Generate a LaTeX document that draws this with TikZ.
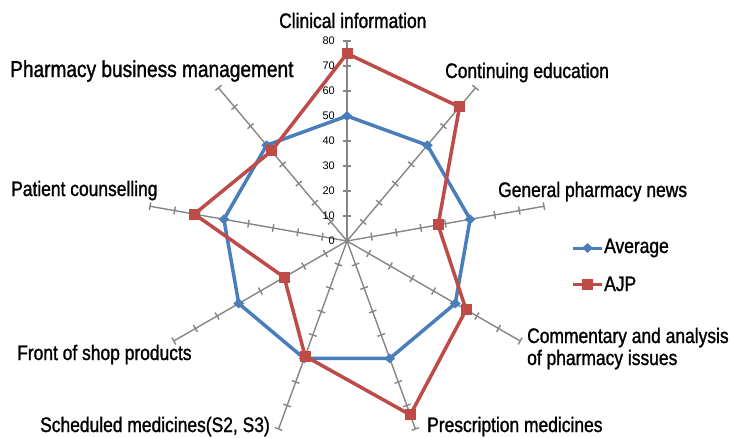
\documentclass[tikz,border=0pt]{standalone}
\usepackage{fontspec}
\setmainfont[FakeStretch=0.83,FakeBold=1.2]{Liberation Sans}
\newfontfamily\ticksfont{Liberation Sans}
\usetikzlibrary{calc,shapes.geometric}
\definecolor{axisgray}{HTML}{868686}
\definecolor{avgblue}{HTML}{4A7EBB}
\definecolor{ajpred}{HTML}{BE4B48}
\begin{document}
\begin{tikzpicture}[x=1pt,y=-1pt,
  axisline/.style={draw=axisgray, line width=1.4pt},
  avgline/.style={draw=avgblue, line width=3.5pt, line join=round},
  ajpline/.style={draw=ajpred, line width=3.5pt, line join=round},
  dmark/.style={diamond, fill=avgblue, inner sep=0pt, minimum width=11pt, minimum height=10pt},
  smark/.style={rectangle, fill=ajpred, inner sep=0pt, minimum size=11pt},
  catlabel/.style={anchor=base west, inner sep=0pt, font=\fontsize{21}{24}\selectfont},
  biglabel/.style={catlabel, font=\fontsize{23}{26}\selectfont},
  ticklabel/.style={anchor=east, inner sep=0pt, font=\ticksfont\fontsize{11}{13}\selectfont}
]
\fill[white] (0,0) rectangle (731,437);
\useasboundingbox (0,0) rectangle (731,437);
\coordinate (C) at (347,241);

% axes with tick marks
\foreach \i in {0,...,8}{
  \pgfmathsetmacro\ang{-90+40*\i}
  \draw[axisline] (C) -- ($(C)+(\ang:200)$) coordinate (E\i);
  \foreach \k in {1,...,8}{
    \draw[axisline] ($(C)+(\ang:{25*\k})+({\ang+90}:4)$) -- ($(C)+(\ang:{25*\k})+({\ang-90}:4)$);
  }
}

% scale labels
\foreach \k in {0,...,8}{
  \pgfmathtruncatemacro\lab{10*\k}
  \node[ticklabel] (tl\k) at (335,{241-25*\k}) {\lab};
}

% data points
\foreach \i/\v in {0/50,1/50,2/50,3/50,4/50,5/50,6/50,7/50,8/50}{
  \coordinate (A\i) at ($(C)+({-90+40*\i}:{2.5*\v})$);
}
\foreach \i/\v in {0/75,1/70,2/37,3/55,4/74,5/49,6/29,7/62,8/47}{
  \coordinate (R\i) at ($(C)+({-90+40*\i}:{2.5*\v})$);
}

% Average series
\draw[avgline] (A0) -- (A1) -- (A2) -- (A3) -- (A4) -- (A5) -- (A6) -- (A7) -- (A8) -- cycle;
\foreach \i in {0,...,8}{ \node[dmark] (mA\i) at (A\i) {}; }

% AJP series
\draw[ajpline] (R0) -- (R1) -- (R2) -- (R3) -- (R4) -- (R5) -- (R6) -- (R7) -- (R8) -- cycle;
\foreach \i in {0,...,8}{ \node[smark] (mR\i) at (R\i) {}; }

% category labels
\node[catlabel] (L0) at (279,28) {Clinical information};
\node[catlabel] (L1) at (445,78) {Continuing education};
\node[catlabel] (L2) at (498,197) {General pharmacy news};
\node[catlabel] (L3) at (527,343) {Commentary and analysis};
\node[catlabel] (L3b) at (527,365) {of pharmacy issues};
\node[catlabel] (L4) at (427,432) {Prescription medicines};
\node[catlabel] (L5) at (40,432) {Scheduled medicines(S2, S3)};
\node[catlabel] (L6) at (17,360) {Front of shop products};
\node[catlabel] (L7) at (11,196) {Patient counselling};
\node[biglabel] (L8) at (10,77) {Pharmacy business management};

% legend
\coordinate (LA1) at (573,248); \coordinate (LA2) at (602,248);
\draw[avgline, line width=3pt] (LA1) -- (LA2);
\node[dmark] (LAm) at ($(LA1)!0.5!(LA2)$) {};
\node[catlabel] (LAt) at (604,253) {Average};
\coordinate (LR1) at (573,284); \coordinate (LR2) at (602,284);
\draw[ajpline, line width=3pt] (LR1) -- (LR2);
\node[smark] (LRm) at ($(LR1)!0.5!(LR2)$) {};
\node[catlabel] (LRt) at (604,291) {AJP};
\end{tikzpicture}
\end{document}
